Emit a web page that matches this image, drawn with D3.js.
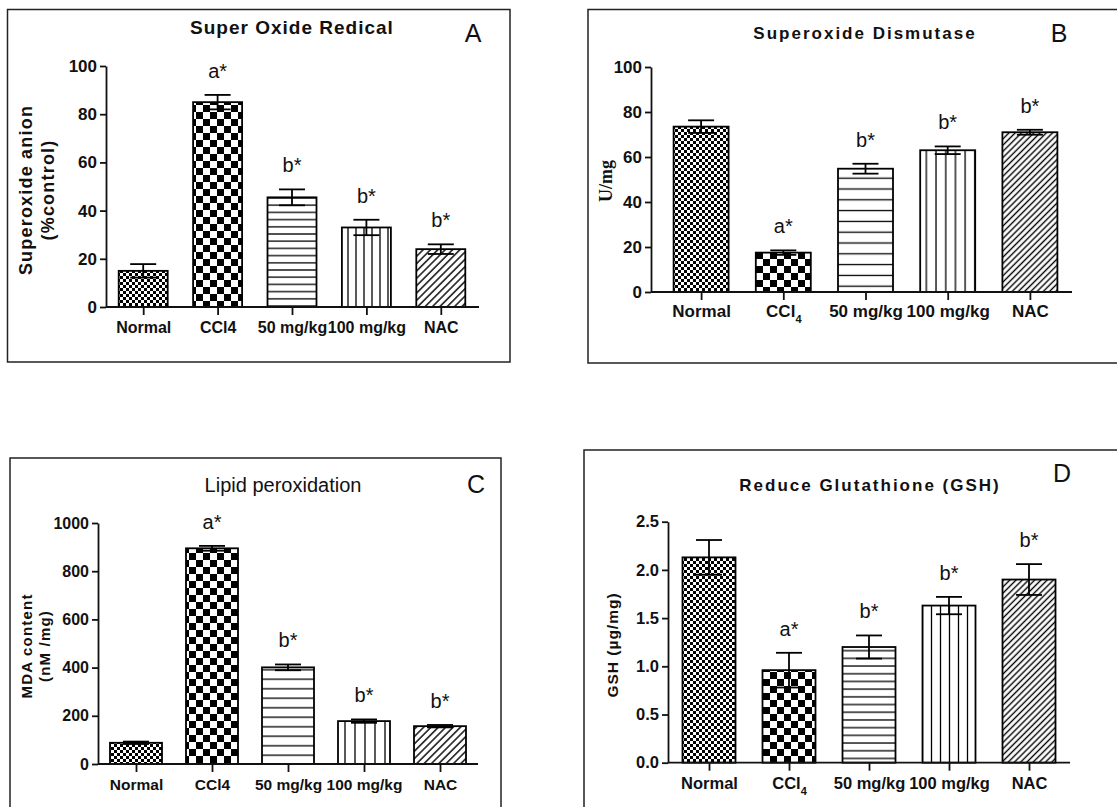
<!DOCTYPE html>
<meta charset="utf-8">
<style>
    body { margin: 0; background: #fff; }
    svg { display: block; }
    text { font-family: "Liberation Sans", Arial, Helvetica, sans-serif; fill: #111; }
    .axis path, .axis line { stroke: #111; stroke-width: 1.8px; }
    .axis text { font-weight: bold; }
    .frame { fill: none; stroke: #222; stroke-width: 1.5px; }
    .bar { stroke: #000; stroke-width: 1.8px; }
    .err { stroke: #000; stroke-width: 1.8px; fill: none; }
    .sig { font-size: 20px; }
    .ylab { font-weight: bold; text-anchor: middle; }
</style>

<body>
    <svg width="1117" height="807"></svg>
</body>

<script src="https://d3js.org/d3.v7.min.js"></script>
<script>

    var groups = ["Normal", "CCl4", "50 mg/kg", "100 mg/kg", "NAC"];
    var sigLetters = ["", "a*", "b*", "b*", "b*"];

    // A: superoxide anion (% control)
    var superoxideMean = [15, 85, 45.5, 33, 24];
    var superoxideErr = [2.8, 3, 3.3, 3.2, 2];

    // B: superoxide dismutase (U/mg)
    var sodMean = [73.5, 17.5, 54.8, 63, 71];
    var sodErr = [2.8, 1, 2.2, 1.7, 1.1];

    // C: MDA content (nM/mg)
    var mdaMean = [88, 895, 401, 178, 157];
    var mdaErr = [5, 10, 12, 7, 5];

    // D: GSH (ug/mg)
    var gshMean = [2.13, 0.96, 1.2, 1.63, 1.9];
    var gshErr = [0.18, 0.18, 0.12, 0.09, 0.16];

    var svg = d3.select("svg");
    var defs = svg.append("defs");

    // --- fill patterns ---
    function checker(id, cell) {
        var p = defs.append("pattern").attr("id", id)
            .attr("patternUnits", "userSpaceOnUse")
            .attr("width", cell * 2).attr("height", cell * 2);
        p.append("rect").attr("width", cell * 2).attr("height", cell * 2).attr("fill", "#fff");
        p.append("rect").attr("width", cell).attr("height", cell).attr("fill", "#000");
        p.append("rect").attr("x", cell).attr("y", cell).attr("width", cell).attr("height", cell).attr("fill", "#000");
    }
    function lines(id, gap, vertical, angle, sw) {
        var p = defs.append("pattern").attr("id", id)
            .attr("patternUnits", "userSpaceOnUse")
            .attr("width", gap).attr("height", gap);
        if (angle) p.attr("patternTransform", "rotate(" + angle + ")");
        p.append("rect").attr("width", gap).attr("height", gap).attr("fill", "#fff");
        if (vertical) {
            p.append("line").attr("x1", gap / 2).attr("x2", gap / 2).attr("y1", 0).attr("y2", gap)
                .attr("stroke", "#000").attr("stroke-width", sw);
        } else {
            p.append("line").attr("y1", gap / 2).attr("y2", gap / 2).attr("x1", 0).attr("x2", gap)
                .attr("stroke", "#000").attr("stroke-width", sw);
        }
    }

    var panels = [
        {
            key: "A", mean: superoxideMean, err: superoxideErr,
            frame: [7.5, 9.5, 510, 362], yAxisX: 106, axisEnd: 479, xRange: [106, 478],
            y0: 307, yTop: 66, yMax: 100, yStep: 20, fmt: d3.format("d"),
            barW: 49, fine: 3, hGap: 7.2, vGap: 8, dGap: 5.2,
            tickFont: 17, xFont: 16, xPad: 7, sub: false,
            title: "Super Oxide Redical", titleX: 292, titleY: 34, titleSize: 19, titleSpacing: 1, titleBold: true,
            letterX: 473, letterY: 42,
            yLab: [{ t: "Superoxide anion", x: 32 }, { t: "(%control)", x: 54 }], yLabCy: 190, yLabSize: 18, yLabSpacing: 1.2
        },
        {
            key: "B", mean: sodMean, err: sodErr,
            frame: [588, 9.5, 1125, 363], yAxisX: 651, axisEnd: 1072, xRange: [660, 1071],
            y0: 292, yTop: 67, yMax: 100, yStep: 20, fmt: d3.format("d"),
            barW: 55, fine: 3, hGap: 10.8, vGap: 9.7, dGap: 4.4,
            tickFont: 17, xFont: 17, xPad: 5, sub: true,
            title: "Superoxide Dismutase", titleX: 865, titleY: 39, titleSize: 17, titleSpacing: 2, titleBold: true,
            letterX: 1059, letterY: 42,
            yLab: [{ t: "U/mg", x: 612, serif: true }], yLabCy: 181, yLabSize: 18, yLabSpacing: 0
        },
        {
            key: "C", mean: mdaMean, err: mdaErr,
            frame: [10, 458, 501, 820], yAxisX: 98, axisEnd: 478, xRange: [98, 478],
            y0: 764, yTop: 523, yMax: 1000, yStep: 200, fmt: d3.format("d"),
            barW: 52, fine: 3, hGap: 9.5, vGap: 10, dGap: 5.2,
            tickFont: 16, xFont: 15.5, xPad: 7, sub: false,
            title: "Lipid peroxidation", titleX: 283, titleY: 492, titleSize: 20, titleSpacing: 0, titleBold: false,
            letterX: 476, letterY: 493,
            yLab: [{ t: "MDA content", x: 32 }, { t: "(nM /mg)", x: 50 }], yLabCy: 646, yLabSize: 15, yLabSpacing: 1.2
        },
        {
            key: "D", mean: gshMean, err: gshErr,
            frame: [584, 450, 1125, 820], yAxisX: 668, axisEnd: 1070, xRange: [669, 1069],
            y0: 762.7, yTop: 521.7, yMax: 2.5, yStep: 0.5, fmt: d3.format(".1f"),
            barW: 53, fine: 3, hGap: 7.7, vGap: 9, dGap: 4.4,
            tickFont: 16.5, xFont: 16.5, xPad: 6.5, sub: true,
            title: "Reduce Glutathione (GSH)", titleX: 870, titleY: 491, titleSize: 17, titleSpacing: 2, titleBold: true,
            letterX: 1062, letterY: 482,
            yLab: [{ t: "GSH (µg/mg)", x: 618 }], yLabCy: 645, yLabSize: 15.5, yLabSpacing: 1
        }
    ];

    panels.forEach(function (p) {
        var ids = [p.key + "n", p.key + "c", p.key + "h", p.key + "v", p.key + "d"];
        checker(ids[0], p.fine);
        checker(ids[1], 7);
        lines(ids[2], p.hGap, false, 0, 1.3);
        lines(ids[3], p.vGap, true, 0, 1.3);
        lines(ids[4], p.dGap, true, 45, 1.4);

        var g = svg.append("g");

        g.append("rect").attr("class", "frame")
            .attr("x", p.frame[0]).attr("y", p.frame[1])
            .attr("width", p.frame[2] - p.frame[0]).attr("height", p.frame[3] - p.frame[1]);

        var x = d3.scalePoint().domain(groups).range(p.xRange).padding(0.5);
        var y = d3.scaleLinear().domain([0, p.yMax]).range([p.y0, p.yTop]);

        var data = groups.map(function (name, i) {
            return { name: name, mean: p.mean[i], err: p.err[i], sig: sigLetters[i], fill: "url(#" + ids[i] + ")" };
        });

        // bars
        g.selectAll(".bar")
            .data(data)
            .enter().append("rect")
            .attr("class", "bar")
            .attr("x", function (d) { return x(d.name) - p.barW / 2; })
            .attr("y", function (d) { return y(d.mean); })
            .attr("width", p.barW)
            .attr("height", function (d) { return y(0) - y(d.mean); })
            .attr("fill", function (d) { return d.fill; });

        // error bars
        var cap = 13;
        var eb = g.selectAll(".eb").data(data).enter().append("g");
        eb.append("line").attr("class", "err")
            .attr("x1", function (d) { return x(d.name); })
            .attr("x2", function (d) { return x(d.name); })
            .attr("y1", function (d) { return y(d.mean - d.err); })
            .attr("y2", function (d) { return y(d.mean + d.err); });
        eb.append("line").attr("class", "err")
            .attr("x1", function (d) { return x(d.name) - cap; })
            .attr("x2", function (d) { return x(d.name) + cap; })
            .attr("y1", function (d) { return y(d.mean + d.err); })
            .attr("y2", function (d) { return y(d.mean + d.err); });
        eb.append("line").attr("class", "err")
            .attr("x1", function (d) { return x(d.name) - cap; })
            .attr("x2", function (d) { return x(d.name) + cap; })
            .attr("y1", function (d) { return y(d.mean - d.err); })
            .attr("y2", function (d) { return y(d.mean - d.err); });

        // significance letters
        g.selectAll(".sig")
            .data(data.filter(function (d) { return d.sig; }))
            .enter().append("text")
            .attr("class", "sig")
            .attr("text-anchor", "middle")
            .attr("x", function (d) { return x(d.name); })
            .attr("y", function (d) { return y(d.mean + d.err) - 17; })
            .text(function (d) { return d.sig; });

        // y axis
        var yAxis = g.append("g").attr("class", "axis")
            .attr("transform", "translate(" + p.yAxisX + ",0)")
            .call(d3.axisLeft(y)
                .tickValues(d3.range(0, p.yMax + p.yStep / 2, p.yStep))
                .tickFormat(p.fmt)
                .tickSize(6).tickSizeOuter(0).tickPadding(3));
        yAxis.selectAll("text").style("font-size", p.tickFont + "px");

        // x axis
        var xAxis = g.append("g").attr("class", "axis")
            .attr("transform", "translate(0," + p.y0 + ")")
            .call(d3.axisBottom(x).tickSize(8).tickSizeOuter(0).tickPadding(p.xPad));
        xAxis.select(".domain").attr("d", "M" + p.yAxisX + ",0H" + p.axisEnd);
        xAxis.selectAll("text").style("font-size", p.xFont + "px");
        if (p.sub) {
            xAxis.selectAll(".tick text")
                .filter(function (d) { return d === "CCl4"; })
                .text("CCl")
                .append("tspan")
                .attr("baseline-shift", "sub")
                .style("font-size", "11px")
                .text("4");
        }

        // title + panel letter
        g.append("text")
            .attr("x", p.titleX).attr("y", p.titleY)
            .attr("text-anchor", "middle")
            .style("font-size", p.titleSize + "px")
            .style("font-weight", p.titleBold ? "bold" : "normal")
            .style("letter-spacing", p.titleSpacing + "px")
            .text(p.title);
        g.append("text")
            .attr("x", p.letterX).attr("y", p.letterY)
            .attr("text-anchor", "middle")
            .style("font-size", "25px")
            .text(p.key);

        // y label
        p.yLab.forEach(function (l) {
            g.append("text")
                .attr("class", "ylab")
                .attr("transform", "translate(" + l.x + "," + p.yLabCy + ") rotate(-90)")
                .style("font-size", p.yLabSize + "px")
                .style("letter-spacing", p.yLabSpacing + "px")
                .style("font-family", l.serif ? "'Liberation Serif', 'Times New Roman', serif" : null)
                .text(l.t);
        });
    });
</script>
